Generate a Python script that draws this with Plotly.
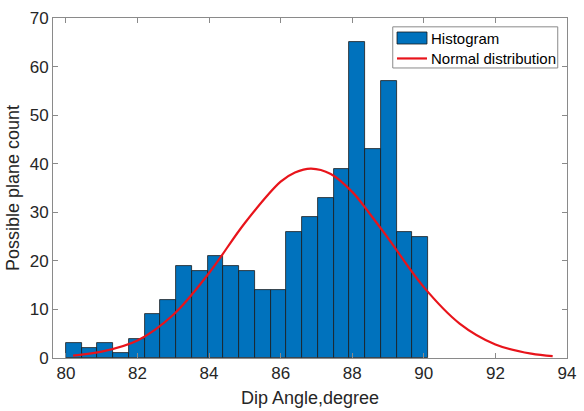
import plotly.graph_objects as go

# ---- data ----
bin_start = 80.0
bin_width = 0.44
counts = [3, 2, 3, 1, 4, 9, 12, 19, 18, 21, 19, 18, 14, 14, 26, 29, 33, 39, 65, 43, 57, 26, 25]

curve_x = [80.2, 81.0, 82.0, 83.0, 84.0, 85.0, 86.0, 86.4, 86.85, 87.4, 88.0, 88.5, 89.0, 90.0, 91.0, 92.0, 93.0, 93.6]
curve_y = [0.5, 1.3, 3.6, 8.9, 17.5, 27.8, 36.3, 38.2, 39.0, 37.9, 34.2, 29.6, 24.7, 14.6, 7.1, 2.8, 0.9, 0.4]

x_ticks = [80, 82, 84, 86, 88, 90, 92, 94]
y_ticks = [0, 10, 20, 30, 40, 50, 60, 70]

centers = [bin_start + bin_width * (i + 0.5) for i in range(len(counts))]

FONT = "Liberation Sans, Arial, sans-serif"
BLUE = "#0072BD"
RED = "#E8141B"
AXC = "#8a8a8a"
TXT = "#262626"

fig = go.Figure()
fig.add_trace(go.Bar(
    x=centers, y=counts, width=bin_width, name="Histogram",
    marker=dict(color=BLUE, line=dict(color="#1a1a1a", width=0.8)),
    showlegend=False,
))
fig.add_trace(go.Scatter(
    x=curve_x, y=curve_y, mode="lines", name="Normal distribution",
    line=dict(color=RED, width=2.2, shape="spline", smoothing=1.0),
    showlegend=False,
))

axis_common = dict(
    showgrid=False, zeroline=False, showline=True, linecolor=AXC, linewidth=1,
    mirror="ticks", ticks="inside", ticklen=5, tickcolor=AXC, automargin=False,
    tickfont=dict(family=FONT, size=17, color=TXT),
)

fig.update_layout(
    width=584, height=411,
    margin=dict(l=53, r=17, t=18, b=53),
    paper_bgcolor="white", plot_bgcolor="white",
    bargap=0,
    xaxis=dict(range=[79.64, 94], tickvals=x_ticks,
               title=dict(text="Dip Angle,degree", font=dict(family=FONT, size=18, color=TXT), standoff=8),
               **axis_common),
    yaxis=dict(range=[0, 70], tickvals=y_ticks,
               title=dict(text="Possible plane count", font=dict(family=FONT, size=18, color=TXT), standoff=5),
               **axis_common),
    showlegend=False,
)

# custom legend mimicking MATLAB style
shapes = [
    dict(type="rect", xref="paper", yref="paper", x0=0.661, x1=0.982, y0=0.853, y1=0.974,
         line=dict(color=AXC, width=1), fillcolor="white", layer="above"),
    dict(type="rect", xref="paper", yref="paper", x0=0.6693, x1=0.7276, y0=0.9235, y1=0.9588,
         line=dict(color="#1a1a1a", width=0.8), fillcolor=BLUE, layer="above"),
    dict(type="line", xref="paper", yref="paper", x0=0.6693, x1=0.7276, y0=0.881, y1=0.881,
         line=dict(color=RED, width=2.2), layer="above"),
]
fig.update_layout(shapes=shapes)
fig.add_annotation(xref="paper", yref="paper", x=0.7315, y=0.941, text="Histogram",
                   showarrow=False, xanchor="left", yanchor="middle",
                   font=dict(family=FONT, size=15, color="#000000"))
fig.add_annotation(xref="paper", yref="paper", x=0.7315, y=0.881, text="Normal distribution",
                   showarrow=False, xanchor="left", yanchor="middle",
                   font=dict(family=FONT, size=15, color="#000000"))

fig.write_html("out.html")
